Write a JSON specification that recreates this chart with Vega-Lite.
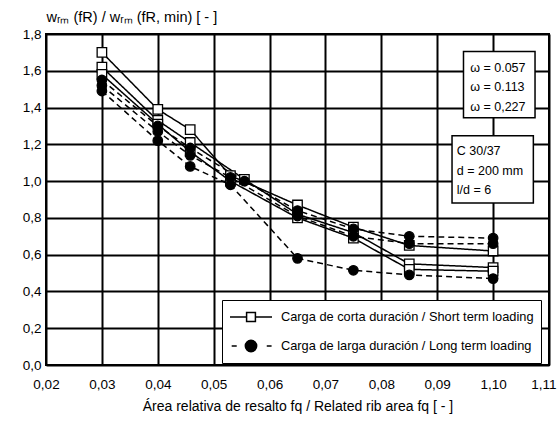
{
  "$schema": "https://vega.github.io/schema/vega-lite/v6.json",
  "width": 503,
  "height": 331,
  "autosize": "none",
  "padding": {"left": 46, "top": 34, "right": 11, "bottom": 64},
  "background": "white",
  "config": {
    "font": "Liberation Sans",
    "view": {"stroke": "black", "strokeWidth": 2},
    "axis": {
      "grid": true, "gridColor": "black", "gridWidth": 2, "gridOpacity": 1,
      "domain": false, "ticks": false,
      "labelFont": "Liberation Sans", "labelFontSize": 13.5, "labelColor": "black",
      "titleFont": "Liberation Sans", "titleFontSize": 14, "titleFontWeight": "normal", "titleColor": "black",
      "labelOverlap": false
    }
  },
  "datasets": {
    "pts": [
      {"x": 0.03, "y": 1.70, "series": "S1", "loading": "Carga de corta duración / Short term loading"},
      {"x": 0.04, "y": 1.39, "series": "S1", "loading": "Carga de corta duración / Short term loading"},
      {"x": 0.0458, "y": 1.28, "series": "S1", "loading": "Carga de corta duración / Short term loading"},
      {"x": 0.053, "y": 1.03, "series": "S1", "loading": "Carga de corta duración / Short term loading"},
      {"x": 0.065, "y": 0.87, "series": "S1", "loading": "Carga de corta duración / Short term loading"},
      {"x": 0.075, "y": 0.75, "series": "S1", "loading": "Carga de corta duración / Short term loading"},
      {"x": 0.085, "y": 0.65, "series": "S1", "loading": "Carga de corta duración / Short term loading"},
      {"x": 0.10, "y": 0.62, "series": "S1", "loading": "Carga de corta duración / Short term loading"},
      {"x": 0.03, "y": 1.62, "series": "S2", "loading": "Carga de corta duración / Short term loading"},
      {"x": 0.04, "y": 1.33, "series": "S2", "loading": "Carga de corta duración / Short term loading"},
      {"x": 0.0458, "y": 1.21, "series": "S2", "loading": "Carga de corta duración / Short term loading"},
      {"x": 0.0555, "y": 1.01, "series": "S2", "loading": "Carga de corta duración / Short term loading"},
      {"x": 0.065, "y": 0.82, "series": "S2", "loading": "Carga de corta duración / Short term loading"},
      {"x": 0.075, "y": 0.72, "series": "S2", "loading": "Carga de corta duración / Short term loading"},
      {"x": 0.085, "y": 0.55, "series": "S2", "loading": "Carga de corta duración / Short term loading"},
      {"x": 0.10, "y": 0.53, "series": "S2", "loading": "Carga de corta duración / Short term loading"},
      {"x": 0.03, "y": 1.58, "series": "S3", "loading": "Carga de corta duración / Short term loading"},
      {"x": 0.04, "y": 1.31, "series": "S3", "loading": "Carga de corta duración / Short term loading"},
      {"x": 0.0458, "y": 1.16, "series": "S3", "loading": "Carga de corta duración / Short term loading"},
      {"x": 0.053, "y": 1.00, "series": "S3", "loading": "Carga de corta duración / Short term loading"},
      {"x": 0.065, "y": 0.80, "series": "S3", "loading": "Carga de corta duración / Short term loading"},
      {"x": 0.075, "y": 0.69, "series": "S3", "loading": "Carga de corta duración / Short term loading"},
      {"x": 0.085, "y": 0.52, "series": "S3", "loading": "Carga de corta duración / Short term loading"},
      {"x": 0.10, "y": 0.51, "series": "S3", "loading": "Carga de corta duración / Short term loading"},
      {"x": 0.03, "y": 1.55, "series": "L1", "loading": "Carga de larga duración / Long term loading"},
      {"x": 0.04, "y": 1.30, "series": "L1", "loading": "Carga de larga duración / Long term loading"},
      {"x": 0.0458, "y": 1.18, "series": "L1", "loading": "Carga de larga duración / Long term loading"},
      {"x": 0.0555, "y": 1.00, "series": "L1", "loading": "Carga de larga duración / Long term loading"},
      {"x": 0.065, "y": 0.84, "series": "L1", "loading": "Carga de larga duración / Long term loading"},
      {"x": 0.075, "y": 0.74, "series": "L1", "loading": "Carga de larga duración / Long term loading"},
      {"x": 0.085, "y": 0.70, "series": "L1", "loading": "Carga de larga duración / Long term loading"},
      {"x": 0.10, "y": 0.69, "series": "L1", "loading": "Carga de larga duración / Long term loading"},
      {"x": 0.03, "y": 1.52, "series": "L2", "loading": "Carga de larga duración / Long term loading"},
      {"x": 0.04, "y": 1.27, "series": "L2", "loading": "Carga de larga duración / Long term loading"},
      {"x": 0.0458, "y": 1.14, "series": "L2", "loading": "Carga de larga duración / Long term loading"},
      {"x": 0.053, "y": 1.02, "series": "L2", "loading": "Carga de larga duración / Long term loading"},
      {"x": 0.065, "y": 0.81, "series": "L2", "loading": "Carga de larga duración / Long term loading"},
      {"x": 0.075, "y": 0.70, "series": "L2", "loading": "Carga de larga duración / Long term loading"},
      {"x": 0.085, "y": 0.66, "series": "L2", "loading": "Carga de larga duración / Long term loading"},
      {"x": 0.10, "y": 0.66, "series": "L2", "loading": "Carga de larga duración / Long term loading"},
      {"x": 0.03, "y": 1.49, "series": "L3", "loading": "Carga de larga duración / Long term loading"},
      {"x": 0.04, "y": 1.22, "series": "L3", "loading": "Carga de larga duración / Long term loading"},
      {"x": 0.0458, "y": 1.08, "series": "L3", "loading": "Carga de larga duración / Long term loading"},
      {"x": 0.053, "y": 0.98, "series": "L3", "loading": "Carga de larga duración / Long term loading"},
      {"x": 0.065, "y": 0.58, "series": "L3", "loading": "Carga de larga duración / Long term loading"},
      {"x": 0.075, "y": 0.515, "series": "L3", "loading": "Carga de larga duración / Long term loading"},
      {"x": 0.085, "y": 0.49, "series": "L3", "loading": "Carga de larga duración / Long term loading"},
      {"x": 0.10, "y": 0.47, "series": "L3", "loading": "Carga de larga duración / Long term loading"}
    ]
  },
  "data": {"name": "pts"},
  "encoding": {
    "x": {
      "field": "x", "type": "quantitative",
      "scale": {"domain": [0.02, 0.11], "nice": false, "zero": false},
      "axis": {
        "values": [0.02, 0.03, 0.04, 0.05, 0.06, 0.07, 0.08, 0.09, 0.1, 0.11],
        "labelExpr": "replace(datum.value > 0.095 ? '1' + substring(format(datum.value, '.2f'), 1) : format(datum.value, '.2f'), '.', ',')",
        "labelFlush": false, "labelPadding": 12,
        "labelAlign": {"condition": {"test": "datum.value > 0.105", "value": "right"}, "value": "center"},
        "labelOffset": {"condition": {"test": "datum.value > 0.105", "value": 7}, "value": 0},
        "title": "Área relativa de resalto fq / Related rib area fq [ - ]",
        "titlePadding": 9
      }
    },
    "y": {
      "field": "y", "type": "quantitative",
      "scale": {"domain": [0, 1.8], "nice": false},
      "axis": {
        "values": [0, 0.2, 0.4, 0.6, 0.8, 1, 1.2, 1.4, 1.6, 1.8],
        "labelExpr": "replace(format(datum.value, '.1f'), '.', ',')",
        "labelPadding": 5,
        "title": "wᵣₘ (fR) / wᵣₘ (fR, min) [ - ]",
        "titleAngle": 0, "titleX": 0, "titleY": -13, "titleAlign": "left", "titleBaseline": "alphabetic",
        "titleFontSize": 14.5
      }
    }
  },
  "layer": [
    {
      "transform": [{"filter": "datum.series == 'S1' && datum.x == 0.03"}],
      "mark": {"type": "rect", "fill": "white", "stroke": "black", "strokeWidth": 1.5},
      "encoding": {
        "x": {"datum": 0.0947, "type": "quantitative"},
        "x2": {"datum": 0.1075},
        "y": {"datum": 1.705, "type": "quantitative"},
        "y2": {"datum": 1.345}
      }
    },
    {
      "transform": [{"filter": "datum.series == 'S1' && datum.x == 0.03"}],
      "mark": {"type": "text", "text": ["ω = 0.057", "ω = 0.113", "ω = 0,227"], "align": "left", "baseline": "top", "lineHeight": 19.5, "fontSize": 12.5, "font": "Liberation Sans", "fill": "black"},
      "encoding": {
        "x": {"datum": 0.0959, "type": "quantitative"},
        "y": {"datum": 1.648, "type": "quantitative"}
      }
    },
    {
      "transform": [{"filter": "datum.series == 'S1' && datum.x == 0.03"}],
      "mark": {"type": "rect", "fill": "white", "stroke": "black", "strokeWidth": 1.5},
      "encoding": {
        "x": {"datum": 0.09265, "type": "quantitative"},
        "x2": {"datum": 0.1072},
        "y": {"datum": 1.247, "type": "quantitative"},
        "y2": {"datum": 0.881}
      }
    },
    {
      "transform": [{"filter": "datum.series == 'S1' && datum.x == 0.03"}],
      "mark": {"type": "text", "text": ["C 30/37", "d = 200 mm", "l/d = 6"], "align": "left", "baseline": "top", "lineHeight": 19.2, "fontSize": 12.5, "font": "Liberation Sans", "fill": "black"},
      "encoding": {
        "x": {"datum": 0.0935, "type": "quantitative"},
        "y": {"datum": 1.194, "type": "quantitative"}
      }
    },
    {
      "mark": {"type": "line", "color": "black", "strokeWidth": 1.5},
      "encoding": {
        "detail": {"field": "series"},
        "strokeDash": {
          "field": "loading", "type": "nominal",
          "scale": {"domain": ["Carga de corta duración / Short term loading", "Carga de larga duración / Long term loading"], "range": [[1, 0], [6, 4]]},
          "legend": null
        }
      }
    },
    {
      "mark": {"type": "point", "filled": true, "stroke": "black", "strokeWidth": 1.3, "size": 90, "opacity": 1},
      "encoding": {
        "shape": {
          "field": "loading", "type": "nominal",
          "scale": {"domain": ["Carga de corta duración / Short term loading", "Carga de larga duración / Long term loading"], "range": ["square", "circle"]},
          "legend": null
        },
        "fill": {
          "field": "loading", "type": "nominal",
          "scale": {"domain": ["Carga de corta duración / Short term loading", "Carga de larga duración / Long term loading"], "range": ["white", "black"]},
          "legend": null
        }
      }
    },
    {
      "mark": {"type": "point", "filled": true, "opacity": 0},
      "encoding": {
        "shape": {
          "field": "loading", "type": "nominal",
          "scale": {"domain": ["Carga de corta duración / Short term loading", "Carga de larga duración / Long term loading"], "range": ["M-1,0H-0.21M0.21,0H1M-0.21,-0.21H0.21V0.21H-0.21Z", "M-0.92,0H-0.68M0.75,0H0.98M0.27,0A0.27,0.27,0,1,1,-0.27,0A0.27,0.27,0,1,1,0.27,0Z"]},
          "legend": {
            "title": null, "orient": "none", "legendX": 176, "legendY": 266,
            "padding": 7, "strokeColor": "black", "fillColor": "white",
            "symbolSize": 1764, "symbolStrokeWidth": 1.5, "symbolOpacity": 1,
            "labelFontSize": 12.8, "labelFont": "Liberation Sans", "labelColor": "black", "labelOffset": 8, "labelLimit": 400,
            "clipHeight": 20, "rowPadding": 9
          }
        },
        "fill": {
          "field": "loading", "type": "nominal",
          "scale": {"domain": ["Carga de corta duración / Short term loading", "Carga de larga duración / Long term loading"], "range": ["white", "black"]},
          "legend": {
            "title": null, "orient": "none", "legendX": 176, "legendY": 266,
            "padding": 7, "strokeColor": "black", "fillColor": "white",
            "symbolSize": 1764, "symbolStrokeWidth": 1.5, "symbolOpacity": 1,
            "labelFontSize": 12.8, "labelFont": "Liberation Sans", "labelColor": "black", "labelOffset": 8, "labelLimit": 400,
            "clipHeight": 20, "rowPadding": 9
          }
        },
        "stroke": {
          "field": "loading", "type": "nominal",
          "scale": {"domain": ["Carga de corta duración / Short term loading", "Carga de larga duración / Long term loading"], "range": ["black", "black"]},
          "legend": {
            "title": null, "orient": "none", "legendX": 176, "legendY": 266,
            "padding": 7, "strokeColor": "black", "fillColor": "white",
            "symbolSize": 1764, "symbolStrokeWidth": 1.5, "symbolOpacity": 1,
            "labelFontSize": 12.8, "labelFont": "Liberation Sans", "labelColor": "black", "labelOffset": 8, "labelLimit": 400,
            "clipHeight": 20, "rowPadding": 9
          }
        }
      }
    }
  ],
  "resolve": {"scale": {"shape": "independent", "fill": "independent", "stroke": "independent"}}
}
